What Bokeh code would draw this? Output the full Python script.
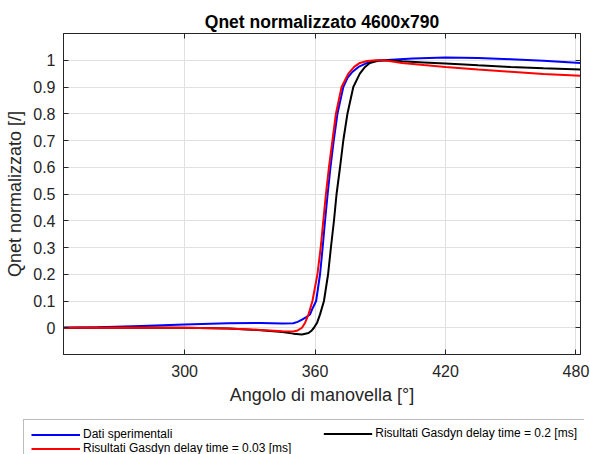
from bokeh.plotting import figure
from bokeh.layouts import column
from bokeh.models import Range1d, FixedTicker, LinearAxis, Legend, LegendItem
from bokeh.embed import file_html
from bokeh.resources import INLINE

# ---- data ----
blue_x = [244, 260, 280, 300, 320, 335, 345, 350, 352, 354, 356, 357.7, 359, 360.5,
          362.3, 363.5, 364.6, 365.8, 367.1, 368.6, 370.3, 373, 375, 377, 380, 384,
          388, 395, 405, 420, 435, 450, 465, 482.1]
blue_y = [0.0, 0.002, 0.007, 0.012, 0.017, 0.018, 0.016, 0.017, 0.022, 0.03, 0.04, 0.05,
          0.075, 0.1, 0.2, 0.3, 0.4, 0.5, 0.6, 0.7, 0.8, 0.9, 0.935, 0.955, 0.975, 0.99,
          0.998, 1.002, 1.007, 1.01, 1.008, 1.004, 0.998, 0.99]

red_x = [244, 270, 300, 320, 335, 345, 350, 352, 354, 355.5, 357, 358.8, 361.1, 362.6,
         363.8, 365.0, 366.4, 368.0, 369.6, 372.2, 375.3, 378, 380.6, 384, 388, 392,
         400, 410, 420, 435, 450, 465, 482.1]
red_y = [0.0, 0.001, 0.0, -0.003, -0.008, -0.013, -0.014, -0.01, 0.0, 0.02, 0.05, 0.1,
         0.2, 0.3, 0.4, 0.5, 0.6, 0.7, 0.8, 0.9, 0.95, 0.975, 0.99, 0.997, 1.0, 1.0,
         0.99, 0.982, 0.975, 0.965, 0.957, 0.949, 0.942]

black_x = [244, 270, 300, 320, 335, 345, 350, 354, 357, 358.5, 359.5, 361, 362.3, 364.1,
           366.0, 367.3, 368.7, 369.9, 371.5, 373.0, 374.9, 377.6, 380.6, 383, 385.2,
           389, 393, 400, 410, 420, 435, 450, 465, 482.1]
black_y = [0.0, 0.001, 0.0, -0.003, -0.009, -0.016, -0.022, -0.025, -0.02, -0.01, 0.0,
           0.02, 0.05, 0.1, 0.2, 0.3, 0.4, 0.5, 0.6, 0.7, 0.8, 0.9, 0.95, 0.975, 0.99,
           0.998, 1.0, 0.996, 0.992, 0.988, 0.981, 0.975, 0.97, 0.965]

x_ticks = [300, 360, 420, 480]
y_ticks = [0, 0.1, 0.2, 0.3, 0.4, 0.5, 0.6, 0.7, 0.8, 0.9, 1]
y_labels = ["0", "0.1", "0.2", "0.3", "0.4", "0.5", "0.6", "0.7", "0.8", "0.9", "1"]

labels = ["Dati sperimentali", "Risultati Gasdyn delay time = 0.03 [ms]",
          "Risultati Gasdyn delay time = 0.2 [ms]"]
colors = ["#0000ff", "#ff0000", "#000000"]

FONT = "Liberation Sans"
AX = "#262626"

# ---------------- main plot ----------------
p = figure(width=590, height=419, output_backend="svg", toolbar_location=None,
           x_range=Range1d(244.3, 482.1), y_range=Range1d(-0.1, 1.1),
           min_border_left=63, min_border_right=10, min_border_top=33,
           min_border_bottom=65, title="Qnet normalizzato 4600x790")
p.frame_align = False
p.outline_line_color = AX
p.background_fill_color = "white"
p.border_fill_color = "white"

p.title.text_font = FONT
p.title.text_font_size = "17.5px"
p.title.text_font_style = "bold"
p.title.align = "center"
p.title.text_color = "black"
p.title.standoff = 3

for ax in (p.xaxis[0], p.yaxis[0]):
    ax.axis_line_color = AX
    ax.major_tick_line_color = AX
    ax.major_tick_in = 5
    ax.major_tick_out = 0
    ax.minor_tick_line_color = None
    ax.major_label_text_font = FONT
    ax.major_label_text_font_size = "16px"
    ax.major_label_text_color = AX
    ax.axis_label_text_font = FONT
    ax.axis_label_text_font_size = "18px"
    ax.axis_label_text_font_style = "normal"
    ax.axis_label_text_color = AX

p.xaxis.ticker = FixedTicker(ticks=x_ticks)
p.yaxis.ticker = FixedTicker(ticks=y_ticks)
p.yaxis.major_label_overrides = {t: l for t, l in zip(y_ticks, y_labels)}
p.xaxis.axis_label = "Angolo di manovella [°]"
p.yaxis.axis_label = "Qnet normalizzato [/]"
p.xaxis.major_label_standoff = 10
p.yaxis.major_label_standoff = 8
p.xaxis.axis_label_standoff = 5
p.yaxis.axis_label_standoff = 5

top = LinearAxis(ticker=FixedTicker(ticks=x_ticks))
right = LinearAxis(ticker=FixedTicker(ticks=y_ticks))
for ax in (top, right):
    ax.axis_line_color = AX
    ax.major_tick_line_color = AX
    ax.major_tick_in = 5
    ax.major_tick_out = 0
    ax.minor_tick_line_color = None
    ax.major_label_text_font_size = "1px"
    ax.major_label_text_color = None
    ax.major_label_standoff = 0
p.add_layout(top, "above")
p.add_layout(right, "right")

p.xgrid.ticker = FixedTicker(ticks=x_ticks)
p.ygrid.ticker = FixedTicker(ticks=y_ticks)
p.grid.grid_line_color = "#e0e0e0"
p.grid.grid_line_width = 1

p.line(blue_x, blue_y, line_color=colors[0], line_width=2)
p.line(black_x, black_y, line_color=colors[2], line_width=2)
p.line(red_x, red_y, line_color=colors[1], line_width=2)

# ---------------- legend strip ----------------
q = figure(width=590, height=35, output_backend="svg", toolbar_location=None,
           title=None, x_axis_type=None, y_axis_type=None,
           min_border_left=23, min_border_right=6, min_border_top=0, min_border_bottom=0)
q.frame_align = False
q.outline_line_color = None
q.background_fill_color = "white"
q.border_fill_color = "white"
series = [(blue_x, blue_y), (red_x, red_y), (black_x, black_y)]
proxies = [q.line(sx, sy, line_color=c, line_width=2, visible=False)
           for (sx, sy), c in zip(series, colors)]


def style(lg):
    lg.label_text_font = FONT
    lg.label_text_font_size = "12px"
    lg.label_text_color = "black"
    lg.label_height = 13
    lg.glyph_height = 13
    lg.glyph_width = 49
    lg.label_standoff = 3
    lg.spacing = 0
    lg.padding = 7
    lg.margin = 0
    lg.inactive_fill_alpha = 0


legA = Legend(items=[LegendItem(label=labels[0], renderers=[proxies[0]]),
                     LegendItem(label=labels[1], renderers=[proxies[1]])],
              location="top_left")
style(legA)
legA.label_width = 495
legA.border_line_color = "#7a7a7a"
legA.border_line_width = 1
legA.background_fill_color = "white"

legB = Legend(items=[LegendItem(label=labels[2], renderers=[proxies[2]])],
              location="top_right")
style(legB)
legB.border_line_color = None
legB.background_fill_alpha = 0
legB.margin = 7

q.add_layout(legA, "center")
q.add_layout(legB, "center")

layout = column(p, q, spacing=0)
open("out.html", "w").write(file_html(layout, INLINE))
